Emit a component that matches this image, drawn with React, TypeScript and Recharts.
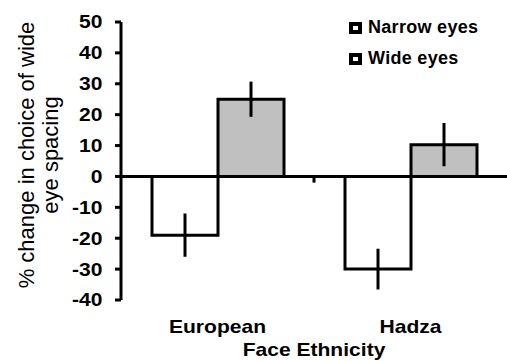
import React from 'react';
import { BarChart, Bar, XAxis, YAxis, ErrorBar, ReferenceLine, Legend } from 'recharts';

const categories = ['European', 'Hadza'];
const narrowEyes = [-19, -30];
const narrowErr = [7, 6.6];
const wideEyes = [25, 10.3];
const wideErr = [5.7, 7];
const yTicks = [-40, -30, -20, -10, 0, 10, 20, 30, 40, 50];
const seriesNames = ['Narrow eyes', 'Wide eyes'];
const xTitle = 'Face Ethnicity';
const yTitleLines = ['% change in choice of wide', 'eye spacing'];

const data = categories.map((c, i) => ({
  category: c,
  narrow: narrowEyes[i],
  narrowErr: narrowErr[i],
  wide: wideEyes[i],
  wideErr: wideErr[i],
  pos: i + 0.5,
}));

const FONT = '"Liberation Sans", Arial, sans-serif';
const SX = 1.17;

const YTick = (props: any) => {
  const { x, y, payload } = props;
  return (
    <text transform={`translate(${x}, ${y + 6.4}) scale(${SX}, 1)`} x={0} y={0} textAnchor="end" fontFamily={FONT} fontSize={18} fontWeight="bold" fill="#000">
      {payload.value}
    </text>
  );
};

const XTick = (props: any) => {
  const { x, y, payload } = props;
  return (
    <text transform={`translate(${x}, ${y + 33}) scale(${SX}, 1)`} x={0} y={0} textAnchor="middle" fontFamily={FONT} fontSize={18} fontWeight="bold" fill="#000">
      {payload.value}
    </text>
  );
};

const XTitle = (props: any) => {
  const vb = props.viewBox;
  return (
    <text transform={`translate(${vb.x + vb.width / 2}, ${vb.y + vb.height - 5}) scale(${SX}, 1)`} x={0} y={0} textAnchor="middle" fontFamily={FONT} fontSize={18} fontWeight="bold" fill="#000">
      {xTitle}
    </text>
  );
};

const YTitle = (props: any) => {
  const vb = props.viewBox;
  const cy = vb.y + vb.height / 2 - 6;
  return (
    <g transform={`translate(33.5, ${cy}) rotate(-90)`}>
      {yTitleLines.map((line, i) => (
        <text key={i} x={0} y={i * 24.5} textAnchor="middle" fontFamily={FONT} fontSize={22} fill="#000">
          {line}
        </text>
      ))}
    </g>
  );
};

const LegendContent = (props: any) => {
  const payload = props.payload || [];
  return (
    <div>
      {payload.map((entry: any, i: number) => (
        <div key={i} style={{ display: 'flex', alignItems: 'center', height: 31, lineHeight: '31px' }}>
          <span
            style={{
              display: 'inline-block',
              width: 13,
              height: 12,
              border: '4px solid #000',
              boxSizing: 'border-box',
              background: '#fff',
              marginLeft: 1,
              marginRight: 6,
            }}
          />
          <span style={{ fontFamily: FONT, fontSize: 18, fontWeight: 'bold', letterSpacing: 0.3, color: '#000' }}>
            {entry.value}
          </span>
        </div>
      ))}
    </div>
  );
};

export default function App() {
  return (
    <div style={{ width: 507, height: 361, background: '#fff' }}>
      <style>{'body{margin:0;background:#fff}'}</style>
      <BarChart
        width={507}
        height={361}
        data={data}
        margin={{ top: 22, right: 0, bottom: 0, left: 0 }}
        barCategoryGap={31}
        barGap={0}
      >
        <XAxis
          dataKey="category"
          height={61}
          axisLine={false}
          tickLine={false}
          tickSize={0}
          tickMargin={0}
          tick={<XTick />}
          label={{ content: <XTitle /> }}
        />
        <XAxis xAxisId="num" type="number" dataKey="pos" domain={[0, 2]} hide />
        <YAxis
          width={121}
          domain={[-40, 50]}
          ticks={yTicks}
          interval={0}
          axisLine={{ stroke: '#000', strokeWidth: 3 }}
          tickLine={{ stroke: '#000', strokeWidth: 3 }}
          tickSize={6}
          tickMargin={12.5}
          tick={<YTick />}
          label={{ content: <YTitle /> }}
        />
        <Legend
          layout="vertical"
          align="center"
          verticalAlign="middle"
          wrapperStyle={{ top: 12, left: 348, width: 159, height: 62 }}
          content={<LegendContent />}
        />
        <Bar dataKey="narrow" name={seriesNames[0]} fill="#ffffff" stroke="#000" strokeWidth={3} isAnimationActive={false}>
          <ErrorBar dataKey="narrowErr" width={0} stroke="#000" strokeWidth={3} direction="y" isAnimationActive={false} />
        </Bar>
        <Bar dataKey="wide" name={seriesNames[1]} fill="#c0c0c0" stroke="#000" strokeWidth={3} isAnimationActive={false}>
          <ErrorBar dataKey="wideErr" width={0} stroke="#000" strokeWidth={3} direction="y" isAnimationActive={false} />
        </Bar>
        <ReferenceLine y={0} stroke="#000" strokeWidth={3} />
        <ReferenceLine
          xAxisId="num"
          segment={[{ x: 1, y: 0 }, { x: 1, y: -2 }]}
          stroke="#000"
          strokeWidth={3}
        />
      </BarChart>
    </div>
  );
}
